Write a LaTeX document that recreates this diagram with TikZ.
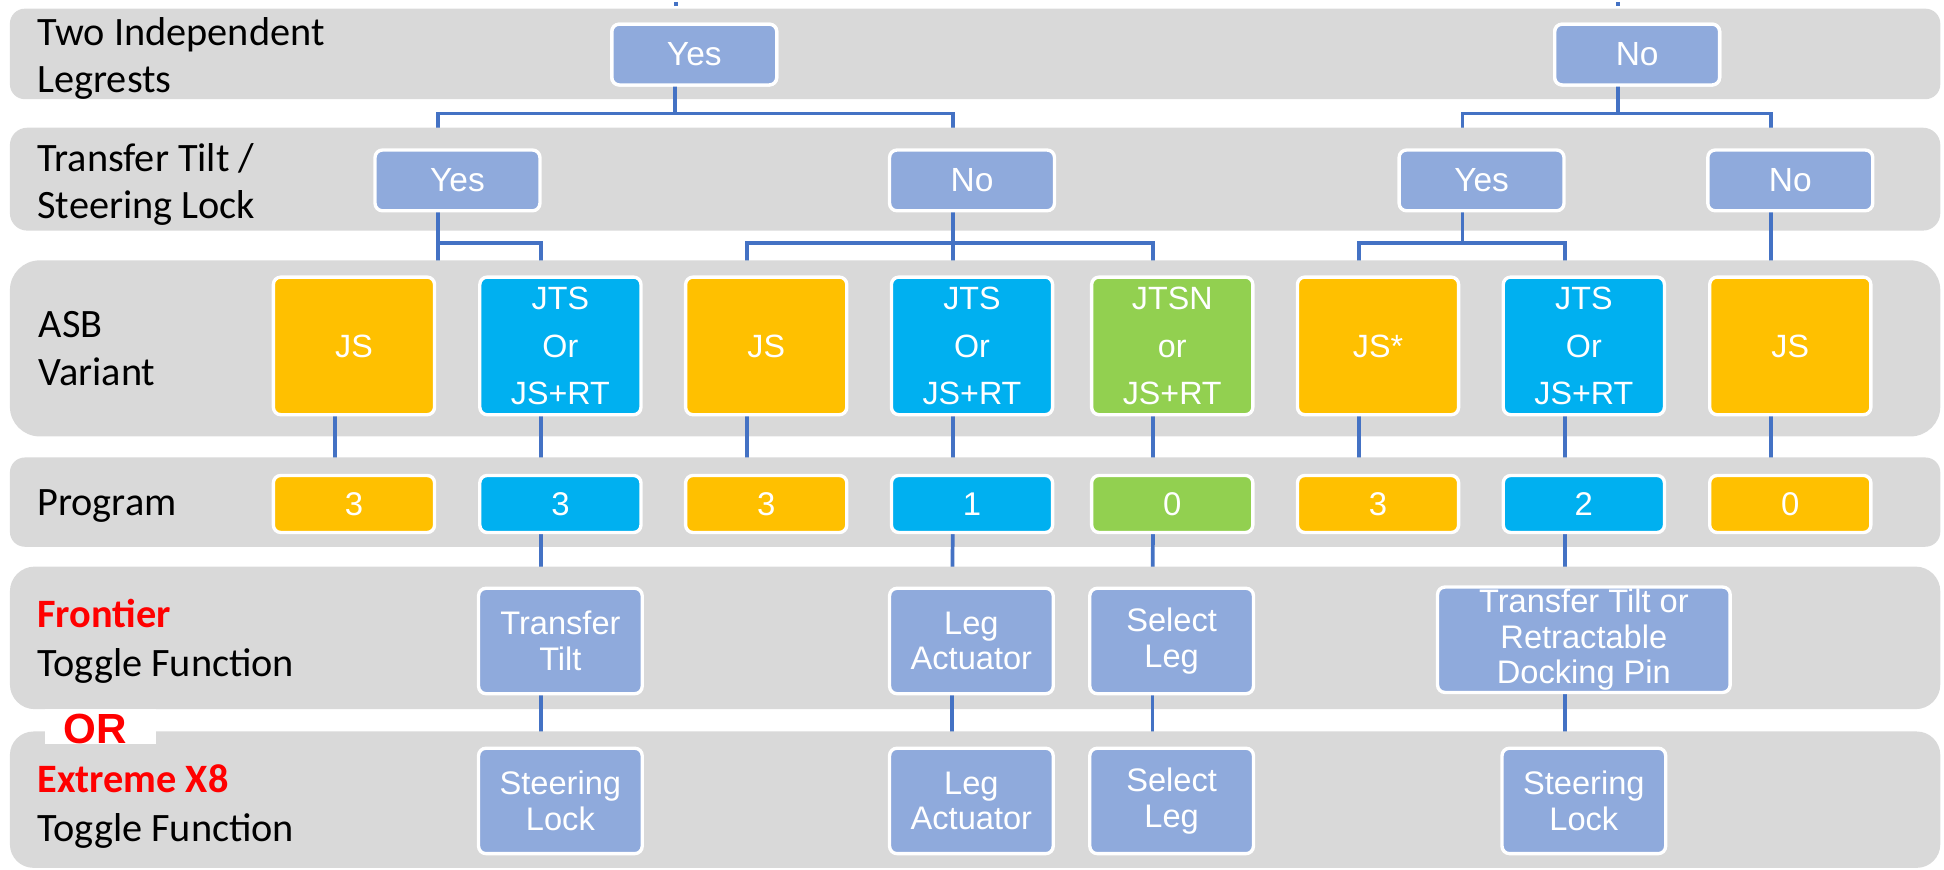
\documentclass[tikz,border=0pt]{standalone}
\usepackage{fontspec}
\setmainfont{Carlito}
\newfontfamily\arialf{Liberation Sans}
\definecolor{bandgray}{HTML}{D9D9D9}
\definecolor{boxblue}{HTML}{8FAADC}
\definecolor{ora}{HTML}{FFC000}
\definecolor{cya}{HTML}{00B0F0}
\definecolor{gre}{HTML}{92D050}
\definecolor{connblue}{HTML}{4472C4}
\definecolor{redtxt}{HTML}{FF0000}
\begin{document}
\begin{tikzpicture}[x=1pt,y=-1pt,
  band/.style={fill=bandgray},
  bx/.style={draw=white, line width=2.7pt, rounded corners=6pt, text=white, align=center, inner sep=0pt, outer sep=0pt},
  yn/.style={bx, fill=boxblue, font=\arialf\fontsize{27}{30}\selectfont, minimum width=133pt, minimum height=49pt},
  asb/.style={bx, font=\arialf\fontsize{26}{38.5}\selectfont, minimum width=130pt, minimum height=111pt},
  prog/.style={bx, font=\arialf\fontsize{26.5}{30}\selectfont, minimum width=130pt, minimum height=46pt},
  tog/.style={bx, fill=boxblue, font=\arialf\fontsize{26.3}{28.5}\selectfont, minimum width=132pt, minimum height=85pt},
  conn/.style={draw=connblue, line width=3pt},
  lbl/.style={anchor=base west, inner sep=0pt, font=\fontsize{32.5}{37}\selectfont},
  redlbl/.style={anchor=base west, inner sep=0pt, text=redtxt, font=\bfseries\fontsize{32.5}{37}\selectfont}
]
\useasboundingbox (0,0) rectangle (1568,701);
\def\off{-15.5pt}

% ---------- top stubs ----------
\coordinate (s1) at (545,1.5);
\coordinate (s2) at (1305,1.5);
\draw[conn] (s1) -- ++(0,3);
\draw[conn] (s2) -- ++(0,3);

% ---------- band 1 ----------
\path[band, rounded corners=12pt] (8,7) rectangle (1565,80);
\node[yn] (r1y) at (560,44) {Yes};
\node[yn] (r1n) at (1320.5,44) {No};

% ---------- band 2 node placeholders ----------
\path (369,145.5) coordinate (p2ya) (784,145.5) coordinate (p2na)
      (1195,145.5) coordinate (p2yb) (1444,145.5) coordinate (p2nb);
\path node[yn, draw=none, fill=none, opacity=0] (r2ya) at (p2ya) {}
      node[yn, draw=none, fill=none, opacity=0] (r2na) at (p2na) {}
      node[yn, draw=none, fill=none, opacity=0] (r2yb) at (p2yb) {}
      node[yn, draw=none, fill=none, opacity=0] (r2nb) at (p2nb) {};

\draw[conn] ([xshift=\off]r1y.south) -- ++(0,23) -| ([xshift=\off]r2ya.north);
\draw[conn] ([xshift=\off]r1y.south) -- ++(0,23) -| ([xshift=\off]r2na.north);
\draw[conn] ([xshift=\off]r1n.south) -- ++(0,23) -| ([xshift=\off]r2yb.north);
\draw[conn] ([xshift=\off]r1n.south) -- ++(0,23) -| ([xshift=\off]r2nb.north);

\node[yn] at (r1y) {Yes};
\node[yn] at (r1n) {No};

% ---------- band 2 ----------
\path[band, rounded corners=14pt] (8,103) rectangle (1565,186);

\foreach \n/\x in {a/285.5,b/452,c/618,d/784,e/945.5,f/1111.5,g/1277.5,h/1444}{
  \path node[asb, draw=none, fill=none, opacity=0] (r3\n) at (\x,279) {};
}
\coordinate (c2a) at ([xshift=\off]r2ya.south);
\coordinate (c2n) at ([xshift=\off]r2na.south);
\coordinate (c2y) at ([xshift=\off]r2yb.south);
\coordinate (c2b) at ([xshift=\off]r2nb.south);
\draw[conn] (c2a) -- (c2a |- r3a.north);
\draw[conn] (c2a) -- ++(0,26) -| ([xshift=\off]r3b.north);
\draw[conn] (c2n) -- ([xshift=\off]r3d.north);
\draw[conn] (c2n) -- ++(0,26) -| ([xshift=\off]r3c.north);
\draw[conn] (c2n) -- ++(0,26) -| ([xshift=\off]r3e.north);
\draw[conn] (c2y) -- ++(0,26) -| ([xshift=\off]r3f.north);
\draw[conn] (c2y) -- ++(0,26) -| ([xshift=\off]r3g.north);
\draw[conn] (c2b) -- ([xshift=\off]r3h.north);

\node[yn] at (r2ya) {Yes};
\node[yn] at (r2na) {No};
\node[yn] at (r2yb) {Yes};
\node[yn] at (r2nb) {No};

% ---------- band 3 ----------
\path[band, rounded corners=24pt] (8,210) rectangle (1565,352);

\foreach \n/\x in {a/285.5,b/452,c/618,d/784,e/945.5,f/1111.5,g/1277.5,h/1444}{
  \path node[prog, draw=none, fill=none, opacity=0] (r4\n) at (\x,406.5) {};
  \draw[conn] ([xshift=\off]r3\n.south) -- ([xshift=\off]r4\n.north);
}
\node[asb, fill=ora] at (r3a) {JS};
\node[asb, fill=cya] at (r3b) {JTS\\Or\\JS+RT};
\node[asb, fill=ora] at (r3c) {JS};
\node[asb, fill=cya] at (r3d) {JTS\\Or\\JS+RT};
\node[asb, fill=gre] at (r3e) {JTSN\\or\\JS+RT};
\node[asb, fill=ora] at (r3f) {JS*};
\node[asb, fill=cya] at (r3g) {JTS\\Or\\JS+RT};
\node[asb, fill=ora] at (r3h) {JS};

% ---------- band 4 ----------
\path[band, rounded corners=12pt] (8,369) rectangle (1565,441);

\path node[tog, draw=none, fill=none, opacity=0] (r5b) at (452,517) {}
      node[tog, draw=none, fill=none, opacity=0] (r5d) at (783.5,517) {}
      node[tog, draw=none, fill=none, opacity=0] (r5e) at (945,517) {}
      node[tog, draw=none, fill=none, opacity=0, minimum width=236pt] (r5g) at (1277.5,516) {};
\foreach \n in {b,d,e,g}{
  \draw[conn] ([xshift=\off]r4\n.south) -- ([xshift=\off]r5\n.north);
}
\node[prog, fill=ora] at (r4a) {3};
\node[prog, fill=cya] at (r4b) {3};
\node[prog, fill=ora] at (r4c) {3};
\node[prog, fill=cya] at (r4d) {1};
\node[prog, fill=gre] at (r4e) {0};
\node[prog, fill=ora] at (r4f) {3};
\node[prog, fill=cya] at (r4g) {2};
\node[prog, fill=ora] at (r4h) {0};

% ---------- band 5 ----------
\path[band, rounded corners=20pt] (8,457) rectangle (1565,572);

\path node[tog, draw=none, fill=none, opacity=0] (r6b) at (452,646) {}
      node[tog, draw=none, fill=none, opacity=0] (r6d) at (783.5,646) {}
      node[tog, draw=none, fill=none, opacity=0] (r6e) at (945,646) {}
      node[tog, draw=none, fill=none, opacity=0] (r6g) at (1277.5,646) {};
\foreach \n in {b,d,e,g}{
  \draw[conn] ([xshift=\off]r5\n.south) -- ([xshift=\off]r6\n.north);
}
\node[tog] at (r5b) {Transfer\\Tilt};
\node[tog] at (r5d) {Leg\\Actuator};
\node[tog] at (r5e) {Select\\Leg};
\node[tog, minimum width=236pt] at (r5g) {Transfer Tilt or\\Retractable\\Docking Pin};

% ---------- band 6 ----------
\path[band, rounded corners=19pt] (8,590) rectangle (1565,700);
\node[tog] at (r6b) {Steering\\Lock};
\node[tog] at (r6d) {Leg\\Actuator};
\node[tog] at (r6e) {Select\\Leg};
\node[tog] at (r6g) {Steering\\Lock};

% OR patch
\fill[white] (36,572) rectangle (126,600);
\node[anchor=base, inner sep=0pt, text=redtxt, font=\arialf\bfseries\fontsize{34}{40}\selectfont] (orl) at (77,599.7) {OR};

% ---------- left labels ----------
\node[lbl] (l1a) at (30,36.3) {Two Independent};
\node[lbl] (l1b) at (30,75) {Legrests};
\node[lbl] (l2a) at (30,138) {Transfer Tilt /};
\node[lbl] (l2b) at (30,176.5) {Steering Lock};
\node[lbl] (l3a) at (31,272) {ASB};
\node[lbl] (l3b) at (31,310.6) {Variant};
\node[lbl] (l4) at (30,415.7) {Program};
\node[redlbl] (l5a) at (30,506) {Frontier};
\node[lbl] (l5b) at (30,545.4) {Toggle Function};
\node[redlbl] (l6a) at (30,639) {Extreme X8};
\node[lbl] (l6b) at (30,679) {Toggle Function};
\end{tikzpicture}
\end{document}
